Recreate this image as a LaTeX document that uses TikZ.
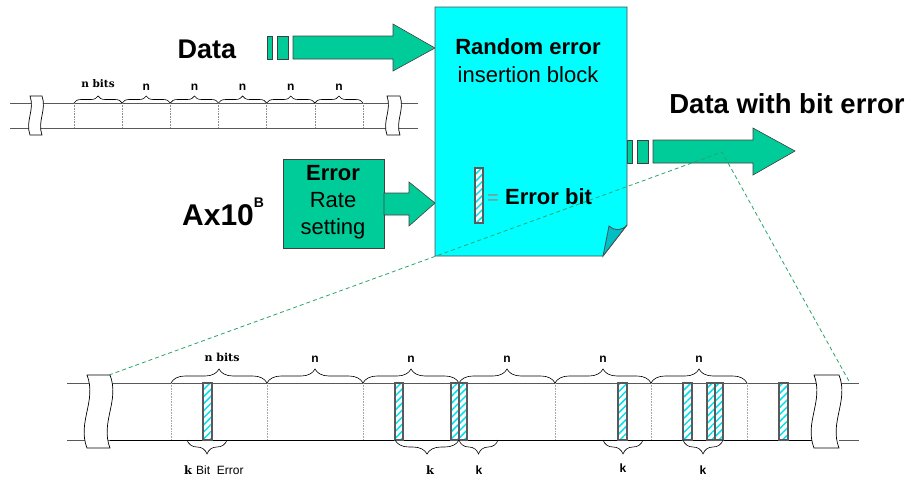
\documentclass[tikz,border=0pt]{standalone}
\usepackage{fontspec}
\setsansfont{Liberation Sans}
\newfontfamily\labelserif{DejaVu Serif}
\usetikzlibrary{decorations.pathreplacing,patterns.meta}

\definecolor{datagreen}{RGB}{0,204,153}
\definecolor{blockcyan}{RGB}{0,255,255}
\definecolor{foldcyan}{RGB}{0,190,195}
\definecolor{hatch}{RGB}{0,225,240}
\definecolor{zoomgreen}{RGB}{40,165,105}

\newcommand\fsz[1]{\fontsize{#1}{#1}\selectfont}
% wavy tape break: x of left edge, width, top, bottom, bulge
\newcommand\tapebreak[5]{%
  \filldraw[cut] (#1,#3) .. controls ({#1+#5},{#3+0.35*(#4-#3)}) and ({#1-#5},{#4-0.35*(#4-#3)}) .. (#1,#4)
    -- ({#1+#2},#4) .. controls ({#1+#2-#5},{#4-0.35*(#4-#3)}) and ({#1+#2+#5},{#3+0.35*(#4-#3)}) .. ({#1+#2},#3) -- cycle;}
% hatched error bit: x1, x2, top, bottom
\newcommand\errbit[4]{%
  \fill[white] (#1,#3) rectangle (#2,#4);
  \fill[pattern={Lines[angle=45,distance=5pt,line width=1.5pt]},pattern color=hatch] (#1,#3) rectangle (#2,#4);
  \draw[bitedge] (#1,#3) rectangle (#2,#4);}

\begin{document}
\begin{tikzpicture}[x=1pt,y=-1pt,font=\sffamily,
  tape/.style={draw=black!65,line width=0.8pt},
  sep/.style={draw=black!45,line width=0.6pt,densely dotted},
  blockarrow/.style={fill=datagreen,draw=black!75,line width=0.6pt},
  cut/.style={fill=white,draw=black,line width=0.7pt},
  bitedge/.style={draw=black!65,line width=1.1pt},
  upbrace/.style={decorate,decoration={brace,amplitude=#1},draw=black,line width=0.6pt},
  downbrace/.style={decorate,decoration={brace,mirror,amplitude=#1},draw=black,line width=0.6pt},
  zoomline/.style={draw=zoomgreen,dash pattern=on 4pt off 3pt,line width=0.8pt},
  lbl/.style={anchor=base,inner sep=0pt},
  serifbold/.style={font=\labelserif\bfseries\fsz{#1}}]
\useasboundingbox (0,0) rectangle (912,480);

% ---------- upper tape ----------
\draw[tape] (10,103) -- (418,103);
\draw[tape] (10,128) -- (418,128);
\foreach \i in {0,...,6} {
  \pgfmathsetmacro\xx{74+48.17*\i}
  \draw[sep] (\xx,103) -- (\xx,128);
}
\foreach \i in {0,...,5} {
  \pgfmathsetmacro\xa{74+48.17*\i}
  \pgfmathsetmacro\xb{74+48.17*(\i+1)}
  \draw[upbrace=7pt] (\xa,103) -- (\xb,103);
}
\node[lbl,serifbold=10.5] (tnb) at (98,87) {n bits};
\foreach \i in {1,...,5} {
  \pgfmathsetmacro\xm{74+48.17*(\i+0.5)}
  \node[lbl,font=\sffamily\bfseries\fsz{12}] (tn\i) at (\xm,90) {n};
}
\tapebreak{30}{12}{96}{135}{5}
\tapebreak{387}{13}{96}{135}{5}

% ---------- data arrow ----------
\node[lbl,font=\sffamily\bfseries\fsz{27}] (data) at (207,58) {Data};
\filldraw[blockarrow] (267,36) rectangle (272,59);
\filldraw[blockarrow] (277,36) rectangle (288,59);
\filldraw[blockarrow] (293,36) -- (393,36) -- (393,24) -- (435,48) -- (393,71) -- (393,59) -- (293,59) -- cycle;

% ---------- error rate setting ----------
\node[lbl,anchor=base west,font=\sffamily\bfseries\fsz{30}] (ax) at (182,225) {Ax10\raisebox{0.6em}{\fsz{14}B}};
\filldraw[blockarrow] (283,159) rectangle (384,248);
\node[lbl,font=\sffamily\bfseries\fsz{22}] (er1) at (333,180) {Error};
\node[lbl,font=\sffamily\fsz{22}] (er2) at (333,207) {Rate};
\node[lbl,font=\sffamily\fsz{22}] (er3) at (333,234) {setting};
\filldraw[blockarrow] (384,193) -- (409,193) -- (409,182) -- (435,203) -- (409,226) -- (409,215) -- (384,215) -- cycle;

% ---------- output arrow ----------
\filldraw[blockarrow] (627,140) rectangle (632,163);
\filldraw[blockarrow] (637,140) rectangle (648,163);
\filldraw[blockarrow] (653,140) -- (753,140) -- (753,128) -- (795,151) -- (753,175) -- (753,163) -- (653,163) -- cycle;
\node[lbl,font=\sffamily\bfseries\fsz{27.5}] (dwe) at (787,113) {Data with bit error};

% ---------- insertion block (folded page) ----------
\filldraw[fill=blockcyan,draw=black!70,line width=0.8pt]
  (435,7) -- (627,7) -- (627,225) -- (603,256) -- (435,256) -- cycle;
\filldraw[fill=foldcyan,draw=black!70,line width=0.8pt]
  (603,256) -- (609,226) .. controls (614,231) and (622,231) .. (627,225) -- cycle;
\node[lbl,font=\sffamily\bfseries\fsz{22}] (rnd) at (528,54) {Random error};
\node[lbl,font=\sffamily\fsz{22}] (ins) at (528,82) {insertion block};
\errbit{475}{483}{168}{223}
\node[lbl,font=\sffamily\fsz{20},text=black!45] (eq) at (493,204) {=};
\node[lbl,anchor=base west,font=\sffamily\bfseries\fsz{22}] (ebl) at (505,204) {Error bit};

% ---------- lower tape ----------
\draw[tape] (67,383) -- (859,383);
\draw[tape] (67,440) -- (110,440);
\draw[draw=black,line width=0.9pt] (110,440) -- (814,440);
\draw[tape] (839,440) -- (859,440);
\foreach \i in {0,...,6} {
  \pgfmathsetmacro\xx{171+96*\i}
  \draw[sep,draw=black!35] (\xx,383) -- (\xx,440);
}
\foreach \i in {0,...,5} {
  \pgfmathsetmacro\xa{171+96*\i}
  \pgfmathsetmacro\xb{171+96*(\i+1)}
  \draw[upbrace=14pt] (\xa,383) -- (\xb,383);
}
\node[lbl,serifbold=11] (bnb) at (222,361) {n bits};
\foreach \i in {1,...,5} {
  \pgfmathsetmacro\xm{171+96*(\i+0.5)}
  \node[lbl,font=\sffamily\bfseries\fsz{12}] (bn\i) at (\xm,362) {n};
}
\foreach \a/\b in {203/212,395/403,451/459,459/467,618/627,683/692,707/715,715/723,779/788} {
  \errbit{\a}{\b}{383}{440}
}
\tapebreak{87}{23}{375}{448}{10}
\tapebreak{814}{25}{375}{448}{10}

% braces under the error bits
\draw[downbrace=14pt] (187,440) -- (227,440);
\draw[downbrace=14pt] (395,440) -- (459,440);
\draw[downbrace=14pt] (459,440) -- (498,440);
\draw[downbrace=14pt] (603,440) -- (643,440);
\draw[downbrace=14pt] (683,440) -- (723,440);
\node[lbl,anchor=base west] (kbe) at (184,474) {\labelserif\bfseries\fsz{11.5}k\ \sffamily\mdseries\fsz{12}Bit\ \ Error};
\node[lbl,serifbold=11.5] (k1) at (430,474) {k};
\node[lbl,font=\sffamily\bfseries\fsz{12}] (k2) at (479,474) {k};
\node[lbl,font=\sffamily\bfseries\fsz{12}] (k3) at (623,472) {k};
\node[lbl,font=\sffamily\bfseries\fsz{12}] (k4) at (703,474) {k};

% ---------- zoom lines ----------
\coordinate (zc) at (722,152);
\coordinate (zl) at (109,375);
\coordinate (zr) at (850,383);
\draw[zoomline] (zl) -- (zc) -- (zr);
\end{tikzpicture}
\end{document}
